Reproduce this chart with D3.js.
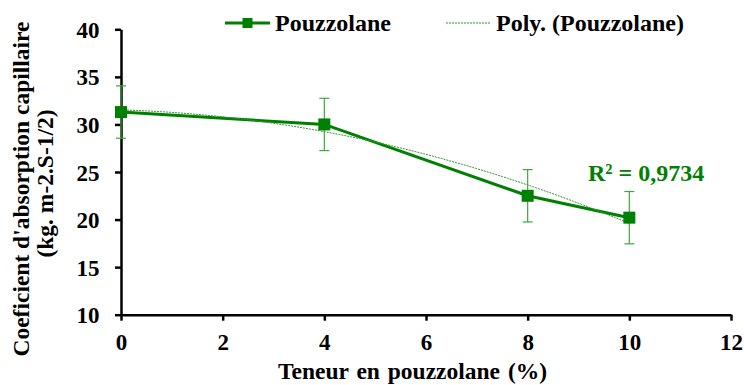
<!DOCTYPE html>
<html>
<head>
<meta charset="utf-8">
<script src="https://cdn.jsdelivr.net/npm/d3@7"></script>
<style>
  html, body { margin: 0; padding: 0; background: #fff; }
  svg { display: block; }
  text { font-family: "Liberation Serif", "Times New Roman", serif; font-weight: bold; }
</style>
</head>
<body>
<svg id="chart" width="744" height="385"></svg>
<script>
// Pozzolan content (%) and capillary absorption coefficient
const contents = [0, 4, 8, 10];
const coefficients = [31.3, 30.0, 22.5, 20.2];
const errors = [2.75, 2.75, 2.75, 2.75];
const xTicks = [0, 2, 4, 6, 8, 10, 12];
const yTicks = [10, 15, 20, 25, 30, 35, 40];
const seriesName = "Pouzzolane";
const trendName = "Poly. (Pouzzolane)";
const r2Label = "R² = 0,9734";
const xTitle = "Teneur en pouzzolane (%)";
const yTitle = ["Coeficient d'absorption capillaire", "(kg. m-2.S-1/2)"];

const serif = "'Liberation Serif', 'Times New Roman', serif";
const green = "#008000";
const errGreen = "#3ea83e";
const trendGreen = "#2f9a2f";

const svg = d3.select("#chart");
const x = d3.scaleLinear().domain([0, 12]).range([121, 731]);
const y = d3.scaleLinear().domain([10, 40]).range([314.7, 29.3]);

// second-order least-squares fit of the series
function polyFit2(xs, ys) {
  let S = [0, 0, 0, 0, 0], T = [0, 0, 0];
  xs.forEach((xv, i) => {
    for (let k = 0; k < 5; k++) S[k] += Math.pow(xv, k);
    for (let k = 0; k < 3; k++) T[k] += ys[i] * Math.pow(xv, k);
  });
  const M = [[S[0], S[1], S[2], T[0]], [S[1], S[2], S[3], T[1]], [S[2], S[3], S[4], T[2]]];
  for (let i = 0; i < 3; i++) {
    for (let j = i + 1; j < 3; j++) {
      const f = M[j][i] / M[i][i];
      for (let k = i; k < 4; k++) M[j][k] -= f * M[i][k];
    }
  }
  const c = [0, 0, 0];
  for (let i = 2; i >= 0; i--) {
    let s = M[i][3];
    for (let k = i + 1; k < 3; k++) s -= M[i][k] * c[k];
    c[i] = s / M[i][i];
  }
  return c;
}
const coef = polyFit2(contents, coefficients);
const trendXs = d3.range(0, 10.001, 0.1);
const trendPts = trendXs.map(v => [v, coef[0] + coef[1] * v + coef[2] * v * v]);

// axes
const xAxis = d3.axisBottom(x).tickValues(xTicks).tickSize(6).tickSizeOuter(0).tickPadding(13);
const yAxis = d3.axisLeft(y).tickValues(yTicks).tickSize(6).tickSizeOuter(0).tickPadding(15.5);

const gx = svg.append("g").attr("transform", `translate(0,${y(10)})`).call(xAxis);
const gy = svg.append("g").attr("transform", `translate(${x(0)},0)`).call(yAxis);
[gx, gy].forEach(g => {
  g.attr("font-family", serif);
  g.select(".domain").attr("stroke", "#000").attr("stroke-width", 2.5);
  g.selectAll(".tick line").attr("stroke", "#000").attr("stroke-width", 2.5);
  g.selectAll(".tick text").attr("fill", "#000").style("font-size", "23px")
    .style("font-family", serif).style("font-weight", "bold");
});
gx.selectAll(".tick text").attr("dy", "0.71em");
gy.selectAll(".tick text").attr("dy", "0.35em");

// axis titles
svg.append("text").attr("x", 278).attr("y", 379).attr("fill", "#000")
  .style("font-size", "23.5px").style("word-spacing", "2px")
  .text(xTitle);
svg.append("text").attr("transform", "translate(29,189) rotate(-90)")
  .attr("text-anchor", "middle").attr("fill", "#000").style("font-size", "23.5px")
  .text(yTitle[0]);
svg.append("text").attr("transform", "translate(53,183.5) rotate(-90)")
  .attr("text-anchor", "middle").attr("fill", "#000").style("font-size", "23.5px")
  .text(yTitle[1]);

// error bars
const eb = svg.append("g").attr("stroke", errGreen).attr("stroke-width", 1.2).attr("fill", "none");
contents.forEach((c, i) => {
  const cx = x(c), top = y(coefficients[i] + errors[i]), bot = y(coefficients[i] - errors[i]);
  eb.append("line").attr("x1", cx).attr("x2", cx).attr("y1", top).attr("y2", bot);
  eb.append("line").attr("x1", cx - 5).attr("x2", cx + 5).attr("y1", top).attr("y2", top);
  eb.append("line").attr("x1", cx - 5).attr("x2", cx + 5).attr("y1", bot).attr("y2", bot);
});

// series line and markers
const line = d3.line().x(d => x(d[0])).y(d => y(d[1]));
const pts = contents.map((c, i) => [c, coefficients[i]]);
svg.append("path").datum(pts).attr("d", line).attr("fill", "none")
  .attr("stroke", green).attr("stroke-width", 3);

// polynomial trend line
svg.append("path").datum(trendPts).attr("d", line).attr("fill", "none")
  .attr("stroke", trendGreen).attr("stroke-width", 1).attr("stroke-dasharray", "2,1");

svg.append("g").selectAll("rect").data(pts).join("rect")
  .attr("x", d => x(d[0]) - 6).attr("y", d => y(d[1]) - 6)
  .attr("width", 12).attr("height", 12).attr("fill", green);

// R² label
svg.append("text").attr("x", 588).attr("y", 181).attr("fill", green)
  .style("font-size", "24px").text(r2Label);

// legend
const lg = svg.append("g");
lg.append("line").attr("x1", 225).attr("x2", 270).attr("y1", 23).attr("y2", 23)
  .attr("stroke", green).attr("stroke-width", 3);
lg.append("rect").attr("x", 242.5).attr("y", 18).attr("width", 10).attr("height", 10).attr("fill", green);
lg.append("text").attr("x", 275).attr("y", 31).attr("fill", "#000").style("font-size", "24px").text(seriesName);
lg.append("line").attr("x1", 446).attr("x2", 491).attr("y1", 23).attr("y2", 23)
  .attr("stroke", trendGreen).attr("stroke-width", 1).attr("stroke-dasharray", "2,1");
lg.append("text").attr("x", 496).attr("y", 31).attr("fill", "#000").style("font-size", "24px").text(trendName);
</script>
</body>
</html>
